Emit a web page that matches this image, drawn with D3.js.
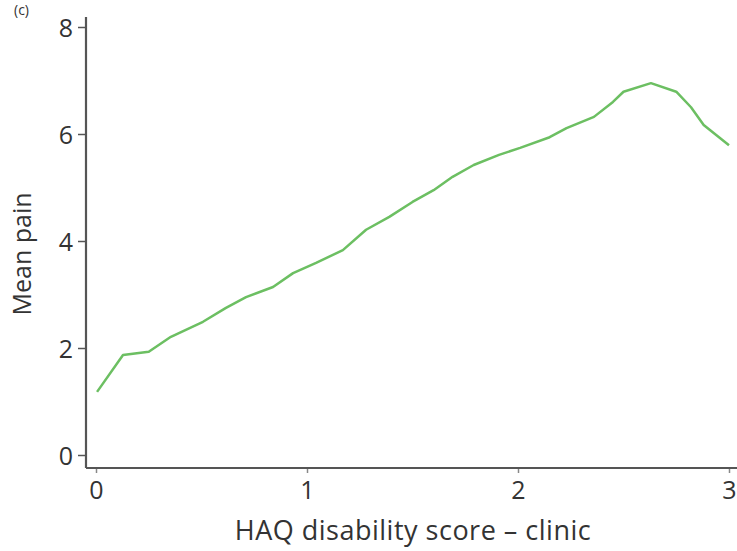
<!DOCTYPE html>
<html>
<head>
<meta charset="utf-8" />
<script src="https://cdn.jsdelivr.net/npm/d3@7/dist/d3.min.js"></script>
<style>
  body { margin: 0; background: #fff; }
  .tick text { font-family: "Open Sans", "Noto Sans", sans-serif; font-size: 25px; font-weight: 500; fill: #333; }
  .axis-title { font-family: "Open Sans", "Noto Sans", sans-serif; font-size: 25px; font-weight: 500; fill: #333; }
</style>
</head>
<body>
<script>
  var width = 737;
  var height = 551;

  // HAQ disability score (x) and mean pain (y)
  var haq  = [0.005, 0.128, 0.25, 0.355, 0.507, 0.616, 0.711, 0.839, 0.934, 1.043,
              1.17, 1.28, 1.39, 1.50, 1.60, 1.69, 1.79, 1.91, 2.01, 2.15,
              2.23, 2.36, 2.45, 2.50, 2.63, 2.75, 2.82, 2.88, 3.00];
  var pain = [1.18, 1.87, 1.93, 2.21, 2.49, 2.75, 2.95, 3.14, 3.40, 3.59,
              3.83, 4.21, 4.45, 4.73, 4.95, 5.20, 5.42, 5.61, 5.74, 5.94,
              6.11, 6.32, 6.60, 6.79, 6.95, 6.79, 6.50, 6.17, 5.79];
  var xTicks = [0, 1, 2, 3];
  var yTicks = [0, 2, 4, 6, 8];

  var svg = d3.select("body").append("svg")
      .attr("width", width)
      .attr("height", height);

  // pixel ranges chosen so 0..3 sits at 96..729 and 0..8 at 455..27
  var x = d3.scaleLinear().domain([0, 3]).range([96, 729]);
  var y = d3.scaleLinear().domain([0, 8]).range([455, 27]);

  var axisX = 86, axisY = 468;

  // y axis
  var gy = svg.append("g")
      .attr("transform", "translate(" + axisX + ",0)")
      .call(d3.axisLeft(y).tickValues(yTicks).tickSize(8).tickPadding(5).tickFormat(d3.format("d")));
  gy.select(".domain").remove();
  gy.selectAll(".tick line").attr("stroke", "#555").attr("stroke-width", 1.5);
  gy.selectAll(".tick text").attr("dy", "0.36em");
  svg.append("line")
      .attr("x1", axisX).attr("x2", axisX)
      .attr("y1", 17).attr("y2", axisY)
      .attr("stroke", "#555").attr("stroke-width", 2.2);

  // x axis
  var gx = svg.append("g")
      .attr("transform", "translate(0," + axisY + ")")
      .call(d3.axisBottom(x).tickValues(xTicks).tickSize(5).tickPadding(8).tickFormat(d3.format("d")));
  gx.select(".domain").remove();
  gx.selectAll(".tick line").attr("stroke", "#888").attr("stroke-width", 1.5);
  svg.append("line")
      .attr("x1", axisX).attr("x2", width)
      .attr("y1", axisY).attr("y2", axisY)
      .attr("stroke", "#555").attr("stroke-width", 2.2);

  // curve
  var pts = haq.map(function(d, i) { return [d, pain[i]]; });
  svg.append("path")
      .datum(pts)
      .attr("fill", "none")
      .attr("stroke", "#6cbf62")
      .attr("stroke-width", 2.5)
      .attr("stroke-linejoin", "round")
      .attr("d", d3.line()
          .x(function(d) { return x(d[0]); })
          .y(function(d) { return y(d[1]); }));

  // titles
  svg.append("text")
      .attr("class", "axis-title")
      .attr("x", 413).attr("y", 540)
      .attr("text-anchor", "middle")
      .style("font-size", "27px")
      .style("letter-spacing", "0.5px")
      .text("HAQ disability score \u2013 clinic");

  svg.append("text")
      .attr("class", "axis-title")
      .attr("transform", "translate(31,254) rotate(-90)")
      .attr("text-anchor", "middle")
      .text("Mean pain");

  // panel letter, small so it stays inside the top edge
  svg.append("text")
      .attr("class", "axis-title")
      .attr("x", 14).attr("y", 15)
      .style("font-size", "14px")
      .text("(c)");
</script>
</body>
</html>
